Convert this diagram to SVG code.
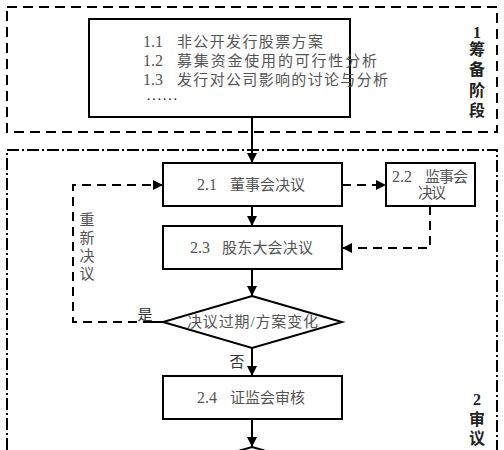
<svg xmlns="http://www.w3.org/2000/svg" width="504" height="450" viewBox="0 0 504 450">
<defs>
<marker id="ah" viewBox="0 0 10 10" refX="10" refY="5" markerWidth="10" markerHeight="10" markerUnits="userSpaceOnUse" orient="auto">
<path d="M0,0 L10,5 L0,10 Z" fill="#000"/>
</marker>
<style>
.box{fill:#fff;stroke:#000;stroke-width:2}
.t{font-family:"Liberation Serif","Noto Sans CJK SC",serif;font-size:15px;fill:#555}
.n{font-size:16px}
.lab{font-family:"Liberation Serif","Noto Sans CJK SC",serif;font-size:16px;fill:#222;font-weight:bold;text-anchor:middle}
.s{fill:none;stroke:#000;stroke-width:2}
.d{fill:none;stroke:#000;stroke-width:2;stroke-dasharray:9 6}
</style>
</defs>
<rect width="504" height="450" fill="#fff"/>
<g id="stage1">
<rect x="7" y="7" width="490" height="125" fill="none" stroke="#000" stroke-width="2" stroke-dasharray="10 6"/>
<text class="lab" x="477" y="38">1</text>
<text class="lab" x="477" y="55">筹</text>
<text class="lab" x="477" y="75">备</text>
<text class="lab" x="477" y="96">阶</text>
<text class="lab" x="477" y="116">段</text>
</g>
<g id="stage2">
<rect x="7" y="150" width="490" height="320" fill="none" stroke="#000" stroke-width="2" stroke-dasharray="12 3 2 3"/>
<text class="lab" x="477" y="405">2</text>
<text class="lab" x="477" y="425">审</text>
<text class="lab" x="477" y="444">议</text>
</g>
<g id="n1">
<rect class="box" x="89" y="19" width="261" height="98"/>
<text class="t n" x="143" y="47">1.1</text>
<text class="t" x="177" y="47" textLength="146" lengthAdjust="spacing">非公开发行股票方案</text>
<text class="t n" x="143" y="66">1.2</text>
<text class="t" x="177" y="66" textLength="200" lengthAdjust="spacing">募集资金使用的可行性分析</text>
<text class="t n" x="143" y="85">1.3</text>
<text class="t" x="177" y="85" textLength="211" lengthAdjust="spacing">发行对公司影响的讨论与分析</text>
<text class="t" x="146" y="100" style="fill:#333" textLength="32" lengthAdjust="spacingAndGlyphs">……</text>
</g>
<g id="n21">
<rect class="box" x="163" y="163" width="179" height="43"/>
<text class="t n" x="197" y="190">2.1</text>
<text class="t" x="230" y="190" textLength="75" lengthAdjust="spacing">董事会决议</text>
</g>
<g id="n22">
<rect class="box" x="386" y="163" width="89" height="43"/>
<text class="t n" x="392" y="182">2.2</text>
<text class="t" x="425" y="182" textLength="43" lengthAdjust="spacing">监事会</text>
<text class="t" x="418" y="198" textLength="28" lengthAdjust="spacing">决议</text>
</g>
<g id="n23">
<rect class="box" x="163" y="226" width="179" height="43"/>
<text class="t n" x="190" y="253">2.3</text>
<text class="t" x="222" y="253" textLength="91" lengthAdjust="spacing">股东大会决议</text>
</g>
<g id="d1">
<polygon class="box" points="252,296 342,322 252,348 163,322"/>
<text class="t" x="187" y="327" textLength="131" lengthAdjust="spacing">决议过期/方案变化</text>
</g>
<g id="n24">
<rect class="box" x="163" y="376" width="179" height="43"/>
<text class="t n" x="197" y="403">2.4</text>
<text class="t" x="230" y="403" textLength="75" lengthAdjust="spacing">证监会审核</text>
</g>
<g id="d2">
<polygon class="box" points="252,447 342,473 252,499 163,473"/>
</g>
<g id="connectors">
<line class="s" x1="252" y1="117" x2="252" y2="163" marker-end="url(#ah)"/>
<line class="d" x1="342" y1="185" x2="386" y2="185" marker-end="url(#ah)"/>
<line class="s" x1="252" y1="206" x2="252" y2="226" marker-end="url(#ah)"/>
<polyline class="d" points="430,206 430,248 342,248" marker-end="url(#ah)"/>
<line class="s" x1="252" y1="269" x2="252" y2="296" marker-end="url(#ah)"/>
<polyline class="d" points="152,322 73,322 73,185 163,185" marker-end="url(#ah)"/>
<line class="s" x1="152" y1="322" x2="163" y2="322"/>
<line class="s" x1="252" y1="348" x2="252" y2="376" marker-end="url(#ah)"/>
<line class="s" x1="252" y1="419" x2="252" y2="447" marker-end="url(#ah)"/>
<text class="t" x="145" y="320" text-anchor="middle" style="fill:#333">是</text>
<text class="t" x="237" y="367" text-anchor="middle" style="fill:#333">否</text>
<text class="t" x="87" y="225" text-anchor="middle">重</text>
<text class="t" x="87" y="243" text-anchor="middle">新</text>
<text class="t" x="87" y="261" text-anchor="middle">决</text>
<text class="t" x="87" y="279" text-anchor="middle">议</text>
</g>
</svg>
